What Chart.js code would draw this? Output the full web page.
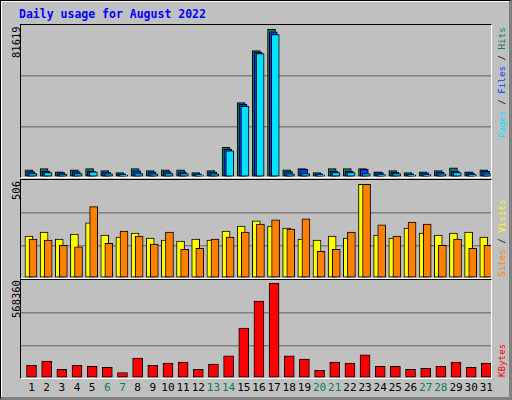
<!DOCTYPE html>
<html><head><meta charset="utf-8">
<script src="https://cdn.jsdelivr.net/npm/chart.js@4"></script>
<style>
body{margin:0;width:512px;height:400px;overflow:hidden;background:#c0c0c0;font-family:"DejaVu Sans Mono",monospace}
#frame{position:absolute;left:0;top:0;width:508px;height:396px;border-top:1px solid #000;border-left:1px solid #000;border-right:3px solid #808080;border-bottom:3px solid #808080;box-shadow:inset 1px 1px 0 #fff}
.pl{position:absolute;left:20px;width:470px;border-top:1px solid #000;border-left:1px solid #000;border-right:1px solid #fff;border-bottom:1px solid #fff}
canvas{position:absolute}
.t{position:absolute;font-size:11px;white-space:nowrap}
.r{position:absolute;font-size:10.5px;white-space:nowrap;transform-origin:left top;transform:rotate(-90deg)}
.rl{position:absolute;font-size:9.2px;white-space:nowrap;transform-origin:left top;transform:rotate(-90deg)}
</style></head><body>
<div id="frame"></div>
<div class="t" style="left:19px;top:7px;color:#0000ff;font-weight:bold;font-size:11.5px">Daily usage for August 2022</div>
<div class="pl" style="top:24px;height:152px"></div>
<div class="pl" style="top:179px;height:98px"></div>
<div class="pl" style="top:279px;height:98px"></div>
<div class="r" style="left:10px;top:58px">81619</div>
<div class="r" style="left:10px;top:200px">506</div>
<div class="r" style="left:10px;top:318px">568360</div>
<div class="rl" style="left:496px;top:138px"><span style="color:#00e0ff">Pages</span> / <span style="color:#0040ff">Files</span> / <span style="color:#00805c">Hits</span></div>
<div class="rl" style="left:496px;top:277px"><span style="color:#ff8000">Sites</span> / <span style="color:#ffff00">Visits</span></div>
<div class="rl" style="left:496px;top:377px;color:#ff0000">KBytes</div>
<canvas id="c1" style="left:21px;top:25px;width:470px;height:152px"></canvas>
<canvas id="c2" style="left:21px;top:180px;width:470px;height:98px"></canvas>
<canvas id="c3" style="left:21px;top:280px;width:470px;height:98px"></canvas>
<div id="days"></div>
<script>
const days=[1,2,3,4,5,6,7,8,9,10,11,12,13,14,15,16,17,18,19,20,21,22,23,24,25,26,27,28,29,30,31];
const weekend=[6,7,13,14,20,21,27,28];
const hits=[4000,4600,2900,4000,4600,3500,2400,4600,3500,4000,4000,2400,3500,16400,41100,69800,81619,4000,4600,2400,4600,4600,4600,2900,3500,2400,2900,3500,5100,2900,4000];
const files=[3000,3200,2400,3000,3200,2700,1700,3400,2800,3000,2800,1800,2700,15300,40200,68900,80200,3000,4200,1800,3300,3200,4200,2400,2600,1800,2300,2700,3300,2300,3200];
const pages=[1900,2400,1600,1900,2800,1800,1100,1900,1800,1900,1900,1100,1800,14400,39100,68200,78700,1800,1900,1100,2400,2400,1900,1400,1900,1100,1400,1800,2400,1400,1800];
const visits=[227,248,210,238,298,232,221,243,216,205,199,210,205,254,281,309,281,270,210,205,227,216,506,232,216,270,243,232,243,248,221];
const sites=[210,205,177,168,386,188,254,227,183,248,155,161,210,221,248,292,314,265,320,144,155,248,506,287,227,303,292,177,210,161,177];
const kbytes=[76500,101300,51700,76500,70300,64100,33100,119900,76500,88900,95100,51700,82700,132300,299700,460900,568360,132300,113700,45500,95100,88900,138500,70300,70300,51700,57900,70300,95100,64100,88900];
const XMIN=0.307,XMAX=31.307;
function ds(vals,off,color,w,ord){return{data:days.map((d,i)=>({x:d+off,y:vals[i]})),backgroundColor:color,borderColor:'#000',borderWidth:1,barThickness:w,grouped:false,borderSkipped:false,order:ord};}
function mk(id,sets,max){
  new Chart(document.getElementById(id),{type:'bar',data:{datasets:sets},options:{
    responsive:false,animation:false,events:[],layout:{padding:0},
    plugins:{legend:{display:false},tooltip:{enabled:false}},
    scales:{x:{type:'linear',min:XMIN,max:XMAX,offset:false,display:false},
      y:{min:0,max:max,display:true,border:{display:false},ticks:{display:false,stepSize:max/3},
        grid:{drawTicks:false,color:c=>(c.index===0||c.index===3)?'rgba(0,0,0,0)':'#808080',lineWidth:1.5}}}}});
}
for(const id of['c1','c2','c3']){const c=document.getElementById(id);c.width=parseInt(c.style.width);c.height=parseInt(c.style.height);}
mk('c1',[ds(hits,-0.17,'#00805c',8,3),ds(files,-0.05,'#0040ff',8,2),ds(pages,0.08,'#00e0ff',8,1)],84000);
mk('c2',[ds(visits,-0.17,'#ffff00',8,2),ds(sites,0.1,'#ff8000',8,1)],530);
mk('c3',[ds(kbytes,0,'#ff0000',10,1)],587000);
const dd=document.getElementById('days');
days.forEach(d=>{const x=21+(d-XMIN)/(XMAX-XMIN)*470;const e=document.createElement('div');e.className='t';e.textContent=d;
e.style.cssText+=`top:381px;left:${x}px;transform:translateX(-50%);color:${weekend.includes(d)?'#00805c':'#000'}`;dd.appendChild(e);});
</script></body></html>
